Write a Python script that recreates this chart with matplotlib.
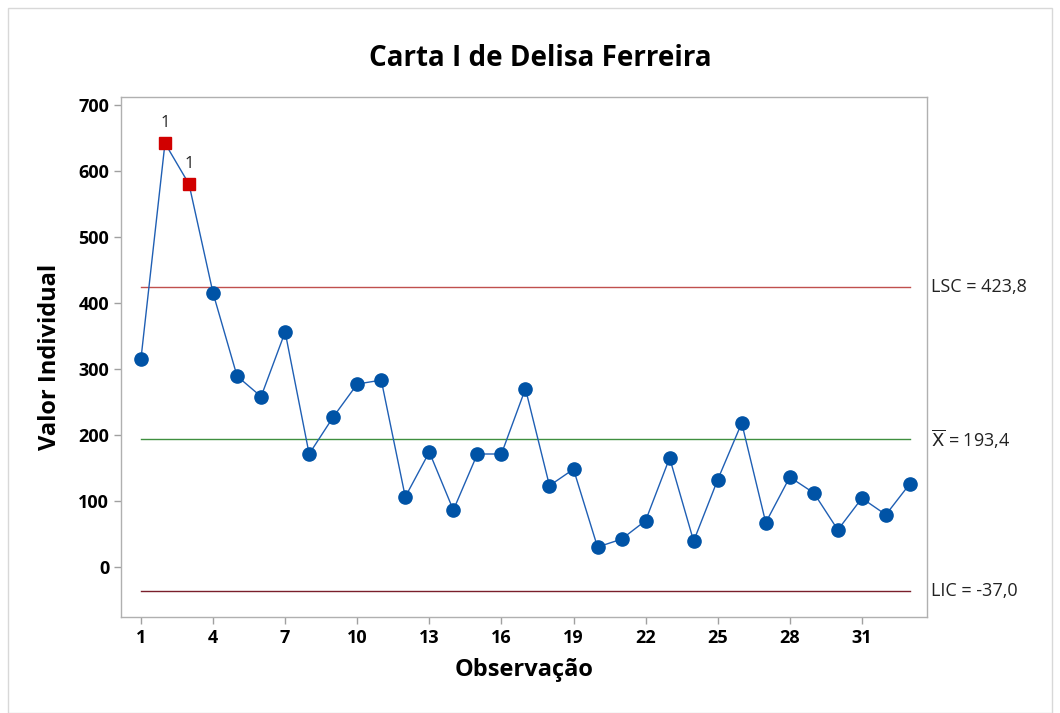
import matplotlib
matplotlib.use("Agg")
import matplotlib.pyplot as plt
from matplotlib.patches import Rectangle

plt.rcParams['font.family'] = ['Open Sans', 'Noto Sans', 'DejaVu Sans']

observations = list(range(1, 34))
values = [315, 642, 580, 415, 289, 258, 356, 171, 227, 277, 283, 106, 174, 86,
          171, 171, 270, 123, 148, 30, 42, 70, 165, 39, 132, 218, 67, 136, 112,
          56, 104, 79, 126]
lsc = 423.8
mean = 193.4
lic = -37.0
xticks = [1, 4, 7, 10, 13, 16, 19, 22, 25, 28, 31]
yticks = [0, 100, 200, 300, 400, 500, 600, 700]

fig = plt.figure(figsize=(10.6, 7.13), dpi=100)
ax = fig.add_axes([121/1060, 1-617/713, (927-121)/1060, (617-97)/713])

x0, x1 = observations[0], observations[-1]
ax.plot([x0, x1], [lsc, lsc], color='#c0504d', lw=1.0)
ax.plot([x0, x1], [mean, mean], color='#3f8f3f', lw=1.0)
ax.plot([x0, x1], [lic, lic], color='#7a1f2b', lw=1.0)

ax.plot(observations, values, color='#1f5fb4', lw=1.0, zorder=3)
out = [i for i, v in enumerate(values) if v > lsc or v < lic]
inn = [i for i in range(len(values)) if i not in out]
ax.plot([observations[i] for i in inn], [values[i] for i in inn], 'o', color='#0053a6',
        markersize=9.5, zorder=4)
ax.plot([observations[i] for i in out], [values[i] for i in out], 's', color='#d10000',
        markersize=9, zorder=4)
for i in out:
    ax.annotate('1', (observations[i], values[i]), xytext=(0, 9), textcoords='offset points',
                ha='center', va='bottom', fontsize=12, color='#222222')

ax.set_xlim(0.17, 33.71)
ax.set_ylim(-76, 712)
ax.set_xticks(xticks)
ax.set_yticks(yticks)
ax.tick_params(axis='both', direction='out', length=5, color='#a0a0a0', labelsize=13, width=1)
for lbl in ax.get_xticklabels() + ax.get_yticklabels():
    lbl.set_fontweight('bold')
for s in ax.spines.values():
    s.set_color('#b0b0b0')
    s.set_linewidth(1.0)

ax.set_xlabel('Observação', fontsize=17, fontweight='bold', labelpad=8)
ax.set_ylabel('Valor Individual', fontsize=17, fontweight='bold', labelpad=12)
fig.text(540/1060, 1-58/713, 'Carta I de Delisa Ferreira', ha='center', va='center',
         fontsize=20, fontweight='bold')

ax.text(1.0 + 0.005, lsc, 'LSC = 423,8', transform=ax.get_yaxis_transform(), va='center',
        ha='left', fontsize=13, color='#222222')
ax.text(1.0 + 0.005, mean, r'$\overline{\mathrm{X}}$ = 193,4', transform=ax.get_yaxis_transform(), va='center',
        ha='left', fontsize=13, color='#222222')
ax.text(1.0 + 0.005, lic, 'LIC = -37,0', transform=ax.get_yaxis_transform(), va='center',
        ha='left', fontsize=13, color='#222222')

fig.patches.append(Rectangle((8/1060, 0), 1 - 16/1060, 1 - 8/713, transform=fig.transFigure,
                             fill=False, edgecolor='#d8d8d8', lw=1))

fig.savefig('out.png', dpi=100)
